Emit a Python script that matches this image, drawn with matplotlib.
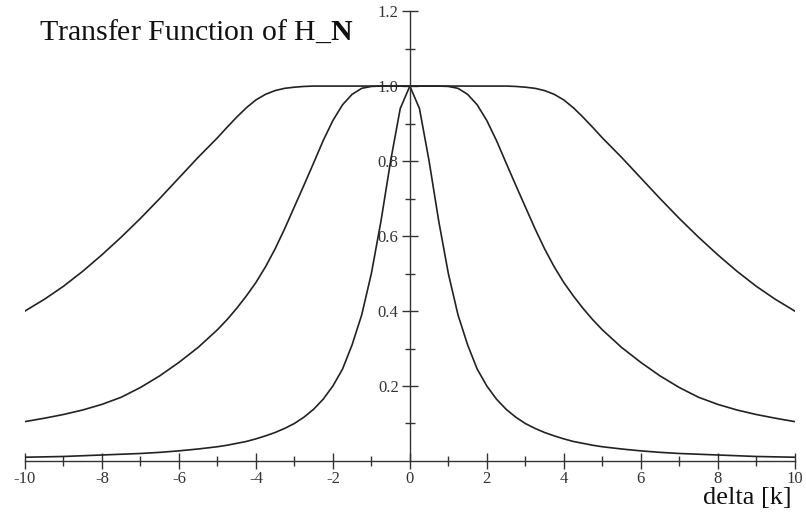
import matplotlib
matplotlib.use("Agg")
import matplotlib.pyplot as plt
import numpy as np

plt.rcParams['font.family'] = ['Liberation Serif', 'DejaVu Serif']
plt.rcParams['mathtext.fontset'] = 'custom'
plt.rcParams['mathtext.rm'] = 'Liberation Serif'
plt.rcParams['mathtext.bf'] = 'Liberation Serif:bold'
plt.rcParams['axes.unicode_minus'] = False

# values (right half, the curves are symmetric about 0)
x_half = [0, 0.25, 0.5, 0.75, 1, 1.25, 1.5, 1.75, 2, 2.25, 2.5, 2.75, 3, 3.25,
          3.5, 3.75, 4, 4.25, 4.5, 4.75, 5, 5.5, 6, 6.5, 7, 7.5, 8, 8.5, 9,
          9.5, 10]
narrow = [1.0, 0.94, 0.80, 0.64, 0.50, 0.39, 0.31, 0.245, 0.20, 0.165, 0.138,
          0.117, 0.10, 0.087, 0.076, 0.067, 0.059, 0.052, 0.047, 0.042, 0.038,
          0.032, 0.027, 0.023, 0.020, 0.018, 0.016, 0.014, 0.012, 0.011, 0.010]
middle = [1.0, 1.0, 1.0, 1.0, 0.999, 0.994, 0.978, 0.95, 0.908, 0.855, 0.795,
          0.736, 0.678, 0.62, 0.566, 0.518, 0.476, 0.44, 0.407, 0.377, 0.35,
          0.303, 0.263, 0.227, 0.196, 0.170, 0.151, 0.136, 0.124, 0.114, 0.105]
wide = [1.0, 1.0, 1.0, 1.0, 1.0, 1.0, 1.0, 1.0, 1.0, 1.0, 1.0, 0.999, 0.997,
        0.994, 0.988, 0.978, 0.963, 0.942, 0.917, 0.89, 0.862, 0.81, 0.755,
        0.700, 0.647, 0.597, 0.550, 0.506, 0.466, 0.431, 0.40]

def mirror(xs, ys):
    xs = np.array(xs)
    ys = np.array(ys)
    return np.concatenate([-xs[::-1], xs[1:]]), np.concatenate([ys[::-1], ys[1:]])

fig = plt.figure(figsize=(8.06, 5.13), dpi=100)
ax = fig.add_axes([0.031, 0.1014, 0.955, 0.877])

for ys in (narrow, middle, wide):
    xx, yy = mirror(x_half, ys)
    ax.plot(xx, yy, color='#222222', lw=1.2)

ax.set_xlim(-10, 10)
ax.set_ylim(0, 1.2)
ax.spines['left'].set_position(('data', 0))
ax.spines['bottom'].set_position(('data', 0))
ax.spines['top'].set_visible(False)
ax.spines['right'].set_visible(False)
for s in ('left', 'bottom'):
    ax.spines[s].set_color('#333333')
    ax.spines[s].set_linewidth(1.0)

ax.set_xticks(np.arange(-10, 11, 2))
ax.set_xticks(np.arange(-9, 10, 2), minor=True)
ax.set_yticks([0.2, 0.4, 0.6, 0.8, 1.0, 1.2])
ax.set_yticklabels(['0.2', '0.4', '0.6', '0.8', '1.0', '1.2'])
ax.set_yticks(np.arange(0.1, 1.2, 0.2), minor=True)
ax.tick_params(which='major', direction='inout', length=12, width=1,
               colors='#333333', labelsize=12, pad=2)
ax.tick_params(which='minor', direction='inout', length=7, width=1, colors='#333333')
ax.tick_params(axis='x', pad=1)

fig.text(0.048, 0.937, r'Transfer Function of H_$\mathbf{N}$', fontsize=21.5,
         ha='left', va='center', color='#111111')
fig.text(0.982, 0.03, 'delta [k]', fontsize=19, ha='right', va='center',
         color='#111111')

fig.savefig('out.png', dpi=100)
